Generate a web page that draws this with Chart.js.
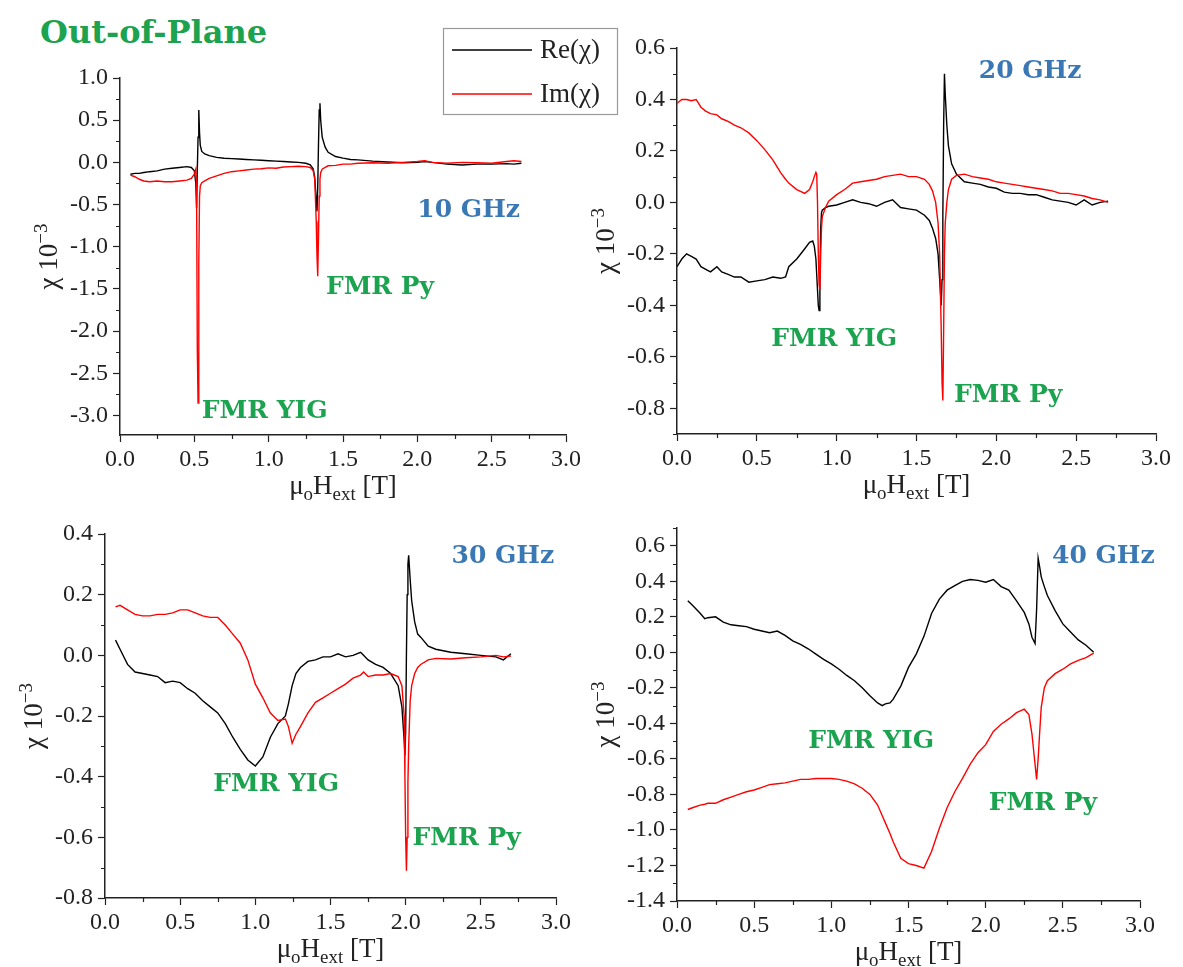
<!DOCTYPE html>
<html lang="en">
<head>
<meta charset="UTF-8">
<title>Out-of-Plane susceptibility</title>
<script src="https://cdn.jsdelivr.net/npm/chart.js"></script>
<style>
    html, body { margin: 0; padding: 0; background: #fff; overflow: hidden; }
    #page { position: relative; width: 1183px; height: 967px; }
    #page canvas { position: absolute; }
    #title {
        position: absolute; left: 40px; top: 16px;
        font: bold 32px "DejaVu Serif", serif; line-height: 32px;
        color: #1ba34f;
    }
</style>
</head>
<body>
<div id="page">
    <div id="title">Out-of-Plane</div>
    <canvas id="c10"></canvas>
    <canvas id="c20"></canvas>
    <canvas id="c30"></canvas>
    <canvas id="c40"></canvas>
</div>
<script>
// tick labels
const xTicks = [0.0, 0.5, 1.0, 1.5, 2.0, 2.5, 3.0];
const yTicks10 = [-3.0, -2.5, -2.0, -1.5, -1.0, -0.5, 0.0, 0.5, 1.0];
const yTicks20 = [-0.8, -0.6, -0.4, -0.2, 0.0, 0.2, 0.4, 0.6];
const yTicks30 = [-0.8, -0.6, -0.4, -0.2, 0.0, 0.2, 0.4];
const yTicks40 = [-1.4, -1.2, -1.0, -0.8, -0.6, -0.4, -0.2, 0.0, 0.2, 0.4, 0.6];

// 10 GHz
const field10 = [
    0.07, 0.1, 0.13, 0.16, 0.2, 0.25, 0.3, 0.35, 0.4, 0.45,
    0.48, 0.5, 0.51, 0.515, 0.52, 0.525, 0.53, 0.535, 0.54, 0.55,
    0.57, 0.6, 0.65, 0.7, 0.75, 0.8, 0.85, 0.9, 0.95, 1.0,
    1.05, 1.1, 1.15, 1.2, 1.25, 1.28, 1.3, 1.31, 1.32, 1.325,
    1.33, 1.335, 1.34, 1.345, 1.35, 1.36, 1.38, 1.4, 1.45, 1.5,
    1.55, 1.6, 1.7, 1.8, 1.9, 2.0, 2.05, 2.1, 2.2, 2.3,
    2.4, 2.5, 2.6, 2.65, 2.7
];
const re10 = [
    -0.14, -0.13, -0.13, -0.12, -0.11, -0.10, -0.08, -0.07, -0.06, -0.05,
    -0.06, -0.10, -0.25, -0.54, -0.10, 0.30, 0.62, 0.35, 0.20, 0.13,
    0.10, 0.08, 0.06, 0.05, 0.045, 0.04, 0.035, 0.03, 0.025, 0.02,
    0.015, 0.01, 0.005, 0.0, -0.01, -0.03, -0.08, -0.18, -0.45, -0.58,
    -0.30, 0.20, 0.62, 0.70, 0.50, 0.30, 0.18, 0.12, 0.07, 0.05,
    0.035, 0.03, 0.015, 0.005, -0.005, 0.0, 0.01, 0.0, -0.02, -0.03,
    -0.02, -0.02, -0.015, -0.02, -0.01
];
const im10 = [
    -0.15, -0.17, -0.20, -0.22, -0.23, -0.22, -0.23, -0.23, -0.22, -0.21,
    -0.19, -0.14, -0.08, -0.30, -2.20, -2.85, -1.20, -0.40, -0.28, -0.24,
    -0.22, -0.19, -0.16, -0.13, -0.11, -0.10, -0.09, -0.08, -0.075, -0.065,
    -0.07, -0.055, -0.05, -0.045, -0.05, -0.06, -0.10, -0.20, -0.70, -1.10,
    -1.35, -0.90, -0.40, -0.20, -0.12, -0.08, -0.06, -0.04, -0.035, -0.02,
    -0.02, -0.01, -0.005, -0.01, 0.0, 0.01, 0.02, 0.0, -0.01, 0.0,
    -0.005, -0.01, 0.01, 0.02, 0.01
];

// 20 GHz
const field20 = [
    0.0, 0.03, 0.06, 0.09, 0.12, 0.15, 0.18, 0.21, 0.25, 0.28,
    0.32, 0.36, 0.4, 0.45, 0.5, 0.55, 0.6, 0.65, 0.68, 0.7,
    0.75, 0.8, 0.83, 0.85, 0.86, 0.87, 0.875, 0.88, 0.885, 0.89,
    0.895, 0.9, 0.905, 0.91, 0.93, 0.95, 1.0, 1.05, 1.1, 1.15,
    1.2, 1.25, 1.3, 1.35, 1.4, 1.45, 1.5, 1.55, 1.58, 1.6,
    1.62, 1.635, 1.645, 1.655, 1.66, 1.665, 1.67, 1.675, 1.68, 1.69,
    1.7, 1.72, 1.75, 1.8, 1.85, 1.9, 1.95, 2.0, 2.05, 2.1,
    2.15, 2.2, 2.25, 2.3, 2.35, 2.4, 2.45, 2.5, 2.55, 2.6,
    2.65, 2.7
];
const re20 = [
    -0.25, -0.22, -0.20, -0.21, -0.22, -0.25, -0.26, -0.27, -0.25, -0.27,
    -0.28, -0.29, -0.29, -0.31, -0.305, -0.30, -0.29, -0.295, -0.29, -0.25,
    -0.22, -0.18, -0.155, -0.15, -0.17, -0.22, -0.28, -0.34, -0.40, -0.42,
    -0.30, -0.10, -0.04, -0.03, -0.02, -0.015, -0.01, 0.0, 0.01, 0.0,
    -0.005, -0.015, 0.0, 0.01, -0.02, -0.025, -0.03, -0.05, -0.07, -0.10,
    -0.14, -0.20, -0.30, -0.40, -0.30, -0.05, 0.30, 0.50, 0.42, 0.30,
    0.22, 0.15, 0.11, 0.08, 0.075, 0.07, 0.06, 0.055, 0.04, 0.035,
    0.035, 0.03, 0.03, 0.02, 0.01, 0.005, 0.0, -0.01, 0.01, -0.01,
    0.0, 0.005
];
const im20 = [
    0.385, 0.40, 0.40, 0.395, 0.40, 0.37, 0.355, 0.345, 0.34, 0.325,
    0.315, 0.30, 0.29, 0.27, 0.24, 0.205, 0.165, 0.115, 0.09, 0.075,
    0.05, 0.035, 0.05, 0.08, 0.10, 0.117, 0.11, 0.0, -0.20, -0.32,
    -0.34, -0.20, -0.10, -0.055, -0.02, 0.005, 0.03, 0.05, 0.075, 0.08,
    0.085, 0.09, 0.10, 0.105, 0.11, 0.10, 0.10, 0.09, 0.07, 0.045,
    0.0, -0.08, -0.20, -0.50, -0.70, -0.77, -0.50, -0.20, -0.08, 0.0,
    0.05, 0.09, 0.105, 0.11, 0.10, 0.095, 0.09, 0.08, 0.075, 0.07,
    0.065, 0.06, 0.055, 0.05, 0.045, 0.035, 0.035, 0.03, 0.025, 0.015,
    0.01, 0.0
];

// 30 GHz
const field30 = [
    0.07, 0.1, 0.15, 0.2, 0.25, 0.3, 0.35, 0.4, 0.45, 0.5,
    0.55, 0.6, 0.65, 0.7, 0.75, 0.8, 0.85, 0.9, 0.95, 1.0,
    1.05, 1.1, 1.15, 1.2, 1.22, 1.245, 1.27, 1.3, 1.35, 1.4,
    1.45, 1.5, 1.55, 1.6, 1.65, 1.7, 1.72, 1.75, 1.8, 1.85,
    1.9, 1.95, 1.975, 1.99, 1.995, 2.0, 2.005, 2.01, 2.015, 2.02,
    2.03, 2.04, 2.06, 2.08, 2.1, 2.15, 2.2, 2.3, 2.4, 2.5,
    2.6, 2.65, 2.7
];
const re30 = [
    0.05, 0.02, -0.03, -0.055, -0.06, -0.065, -0.07, -0.09, -0.085, -0.09,
    -0.11, -0.125, -0.15, -0.17, -0.19, -0.225, -0.27, -0.31, -0.345, -0.365,
    -0.335, -0.27, -0.225, -0.20, -0.16, -0.10, -0.06, -0.04, -0.02, -0.015,
    -0.005, -0.005, 0.005, -0.005, 0.0, 0.01, 0.0, -0.015, -0.03, -0.04,
    -0.06, -0.10, -0.17, -0.28, -0.33, -0.25, 0.0, 0.20, 0.30, 0.33,
    0.25, 0.18, 0.11, 0.07, 0.06, 0.03, 0.02, 0.01, 0.005, 0.0,
    -0.005, -0.015, 0.005
];
const im30 = [
    0.16, 0.165, 0.15, 0.135, 0.13, 0.13, 0.135, 0.135, 0.14, 0.15,
    0.15, 0.14, 0.13, 0.125, 0.125, 0.10, 0.07, 0.04, -0.015, -0.095,
    -0.14, -0.19, -0.215, -0.21, -0.235, -0.29, -0.26, -0.235, -0.19, -0.155,
    -0.14, -0.125, -0.11, -0.095, -0.075, -0.065, -0.055, -0.07, -0.065, -0.065,
    -0.06, -0.07, -0.10, -0.20, -0.40, -0.60, -0.71, -0.60, -0.42, -0.30,
    -0.15, -0.10, -0.06, -0.04, -0.03, -0.015, -0.01, -0.012, -0.008, -0.005,
    0.0, -0.005, -0.002
];

// 40 GHz
const field40 = [
    0.07, 0.1, 0.15, 0.18, 0.2, 0.25, 0.3, 0.35, 0.4, 0.45,
    0.5, 0.55, 0.6, 0.65, 0.7, 0.75, 0.8, 0.85, 0.9, 0.95,
    1.0, 1.05, 1.1, 1.15, 1.2, 1.25, 1.3, 1.33, 1.35, 1.38,
    1.4, 1.45, 1.5, 1.55, 1.6, 1.65, 1.7, 1.75, 1.8, 1.85,
    1.9, 1.95, 2.0, 2.05, 2.1, 2.15, 2.2, 2.25, 2.28, 2.3,
    2.32, 2.33, 2.34, 2.35, 2.36, 2.38, 2.4, 2.45, 2.5, 2.55,
    2.6, 2.65, 2.7
];
const re40 = [
    0.29, 0.265, 0.22, 0.19, 0.195, 0.20, 0.17, 0.155, 0.15, 0.145,
    0.13, 0.12, 0.11, 0.12, 0.095, 0.065, 0.045, 0.02, -0.01, -0.04,
    -0.065, -0.095, -0.13, -0.16, -0.20, -0.245, -0.285, -0.30, -0.29, -0.285,
    -0.265, -0.19, -0.085, -0.01, 0.09, 0.22, 0.30, 0.35, 0.375, 0.40,
    0.41, 0.405, 0.395, 0.41, 0.37, 0.35, 0.29, 0.225, 0.16, 0.085,
    0.05, 0.24, 0.53, 0.48, 0.425, 0.37, 0.32, 0.235, 0.16, 0.115,
    0.07, 0.04, 0.0
];
const im40 = [
    -0.885, -0.875, -0.86, -0.855, -0.85, -0.85, -0.83, -0.815, -0.80, -0.785,
    -0.775, -0.76, -0.745, -0.74, -0.735, -0.725, -0.715, -0.715, -0.71, -0.71,
    -0.71, -0.715, -0.725, -0.74, -0.765, -0.80, -0.86, -0.92, -0.96, -1.02,
    -1.065, -1.16, -1.19, -1.20, -1.215, -1.12, -0.99, -0.875, -0.785, -0.71,
    -0.63, -0.565, -0.52, -0.445, -0.405, -0.375, -0.34, -0.32, -0.35, -0.46,
    -0.63, -0.715, -0.60, -0.45, -0.31, -0.20, -0.16, -0.12, -0.095, -0.065,
    -0.045, -0.03, -0.005
];

const GREEN = '#1ba34f';
const BLUE = '#3a78b5';
const AXIS = '#222';
const SERIF = '"Liberation Serif", "DejaVu Serif", serif';
const AX_W = 100;   // room left of the plot for y labels + title
const AX_H = 65;    // room below the plot for x labels + title

const panels = [
    { id: 'c10', field: field10, re: re10, im: im10, yTicks: yTicks10, yMin: -3.23, yMax: 1.0,
      area: { left: 120, top: 78, right: 566, bottom: 435 }, padTop: 60, padRight: 65, legend: true,
      notes: [
          { text: '10 GHz', x: 2.0, y: -0.57, color: BLUE },
          { text: 'FMR Py', x: 1.385, y: -1.48, color: GREEN },
          { text: 'FMR YIG', x: 0.55, y: -2.95, color: GREEN }
      ] },
    { id: 'c20', field: field20, re: re20, im: im20, yTicks: yTicks20, yMin: -0.9, yMax: 0.6,
      area: { left: 677, top: 48, right: 1156, bottom: 434 }, padTop: 20, padRight: 25,
      notes: [
          { text: '20 GHz', x: 1.89, y: 0.507, color: BLUE },
          { text: 'FMR YIG', x: 0.59, y: -0.534, color: GREEN },
          { text: 'FMR Py', x: 1.735, y: -0.75, color: GREEN }
      ] },
    { id: 'c30', field: field30, re: re30, im: im30, yTicks: yTicks30, yMin: -0.8, yMax: 0.4,
      area: { left: 105, top: 534, right: 556, bottom: 898 }, padTop: 20, padRight: 30,
      notes: [
          { text: '30 GHz', x: 2.305, y: 0.326, color: BLUE },
          { text: 'FMR YIG', x: 0.72, y: -0.425, color: GREEN },
          { text: 'FMR Py', x: 2.046, y: -0.603, color: GREEN }
      ] },
    { id: 'c40', field: field40, re: re40, im: im40, yTicks: yTicks40, yMin: -1.4, yMax: 0.7,
      area: { left: 677, top: 528, right: 1140, bottom: 901 }, padTop: 20, padRight: 25,
      notes: [
          { text: '40 GHz', x: 2.43, y: 0.54, color: BLUE },
          { text: 'FMR YIG', x: 0.85, y: -0.5, color: GREEN },
          { text: 'FMR Py', x: 2.02, y: -0.85, color: GREEN }
      ] }
];

function toPoints(xs, ys) {
    return xs.map((x, i) => ({ x: x, y: ys[i] }));
}

// minor ticks halfway between the labelled ones
function minorValues(ticks, min, max) {
    const step = ticks[1] - ticks[0];
    const out = [ticks[0] - step / 2];
    ticks.forEach(v => out.push(v + step / 2));
    return out.filter(v => v >= min - 1e-6 && v <= max + 1e-6);
}

// text with sub/superscripts, centred at (cx, cy)
function drawRich(ctx, parts, cx, cy, size) {
    let w = 0;
    parts.forEach(p => {
        p.size = (p.sub || p.sup) ? size * 0.7 : size;
        ctx.font = p.size + 'px ' + SERIF;
        p.w = ctx.measureText(p.t).width;
        w += p.w;
    });
    let x = cx - w / 2;
    const base = cy + size * 0.33;
    parts.forEach(p => {
        ctx.font = p.size + 'px ' + SERIF;
        const dy = p.sub ? size * 0.22 : (p.sup ? -size * 0.38 : 0);
        ctx.fillText(p.t, x, base + dy);
        x += p.w;
    });
}

const decor = {
    id: 'decor',
    afterDraw(chart, args, opts) {
        const ctx = chart.ctx;
        const area = chart.chartArea;
        const xs = chart.scales.x, ys = chart.scales.y;
        ctx.save();

        // minor ticks
        ctx.strokeStyle = AXIS;
        ctx.lineWidth = 1.2;
        ctx.beginPath();
        minorValues(xTicks, xs.min, xs.max).forEach(v => {
            const px = Math.round(xs.getPixelForValue(v)) + 0.5;
            ctx.moveTo(px, area.bottom);
            ctx.lineTo(px, area.bottom + 4);
        });
        minorValues(opts.yTicks, ys.min, ys.max).forEach(v => {
            const py = Math.round(ys.getPixelForValue(v)) + 0.5;
            ctx.moveTo(area.left, py);
            ctx.lineTo(area.left - 4, py);
        });
        ctx.stroke();

        // axis titles
        ctx.fillStyle = AXIS;
        ctx.textAlign = 'left';
        ctx.textBaseline = 'alphabetic';
        drawRich(ctx, [{ t: 'μ' }, { t: 'o', sub: true }, { t: 'H' }, { t: 'ext', sub: true }, { t: ' [T]' }],
            (area.left + area.right) / 2, area.bottom + 50, 27);
        ctx.save();
        ctx.translate(area.left - 72, (area.top + area.bottom) / 2);
        ctx.rotate(-Math.PI / 2);
        drawRich(ctx, [{ t: 'χ 10' }, { t: '−3', sup: true }], 0, 0, 27);
        ctx.restore();

        // annotations, anchored in data units
        ctx.font = 'bold 25px "DejaVu Serif", serif';
        ctx.textBaseline = 'middle';
        opts.notes.forEach(n => {
            ctx.fillStyle = n.color;
            ctx.fillText(n.text, xs.getPixelForValue(n.x), ys.getPixelForValue(n.y));
        });

        // legend box
        if (opts.legend) {
            const bx = area.right - 123, by = area.top - 50;
            ctx.strokeStyle = '#999';
            ctx.lineWidth = 1.2;
            ctx.strokeRect(bx + 0.5, by + 0.5, 174, 86);
            ctx.font = '27px ' + SERIF;
            ctx.textBaseline = 'middle';
            chart.data.datasets.forEach((ds, i) => {
                const y = by + 22 + i * 44;
                ctx.strokeStyle = ds.borderColor;
                ctx.lineWidth = 1.5;
                ctx.beginPath();
                ctx.moveTo(bx + 9, y);
                ctx.lineTo(bx + 89, y);
                ctx.stroke();
                ctx.fillStyle = AXIS;
                ctx.fillText(ds.label, bx + 97, y + 1);
            });
        }
        ctx.restore();
    }
};

function makeChart(p) {
    const canvas = document.getElementById(p.id);
    canvas.width = p.area.right - p.area.left + AX_W + p.padRight;
    canvas.height = p.area.bottom - p.area.top + p.padTop + AX_H;
    canvas.style.left = (p.area.left - AX_W) + 'px';
    canvas.style.top = (p.area.top - p.padTop) + 'px';

    const tickFont = { family: SERIF, size: 24 };
    return new Chart(canvas, {
        type: 'line',
        data: {
            datasets: [
                { label: 'Re(χ)', data: toPoints(p.field, p.re), borderColor: '#000000',
                  borderWidth: 1.4, pointRadius: 0, tension: 0, order: 1 },
                { label: 'Im(χ)', data: toPoints(p.field, p.im), borderColor: '#ff0000',
                  borderWidth: 1.4, pointRadius: 0, tension: 0, order: 0 }
            ]
        },
        options: {
            responsive: false,
            animation: false,
            devicePixelRatio: 1,
            layout: { padding: { top: p.padTop, right: p.padRight, left: 0, bottom: 0 } },
            plugins: {
                legend: { display: false },
                tooltip: { enabled: false },
                decor: { yTicks: p.yTicks, notes: p.notes, legend: !!p.legend }
            },
            scales: {
                x: {
                    type: 'linear', min: 0, max: 3,
                    afterFit: s => { s.height = AX_H; },
                    afterBuildTicks: s => { s.ticks = xTicks.map(v => ({ value: v })); },
                    grid: { drawOnChartArea: false, tickLength: 7, tickColor: AXIS, tickWidth: 1.2 },
                    border: { color: AXIS, width: 1.5 },
                    ticks: { font: tickFont, color: AXIS, padding: 3, maxRotation: 0, autoSkip: false,
                             callback: v => v.toFixed(1) }
                },
                y: {
                    type: 'linear', min: p.yMin, max: p.yMax,
                    afterFit: s => { s.width = AX_W; },
                    afterBuildTicks: s => { s.ticks = p.yTicks.map(v => ({ value: v })); },
                    grid: { drawOnChartArea: false, tickLength: 7, tickColor: AXIS, tickWidth: 1.2 },
                    border: { color: AXIS, width: 1.5 },
                    ticks: { font: tickFont, color: AXIS, padding: 5, autoSkip: false,
                             callback: v => v.toFixed(1) }
                }
            }
        },
        plugins: [decor]
    });
}

panels.forEach(makeChart);
</script>
</body>
</html>
